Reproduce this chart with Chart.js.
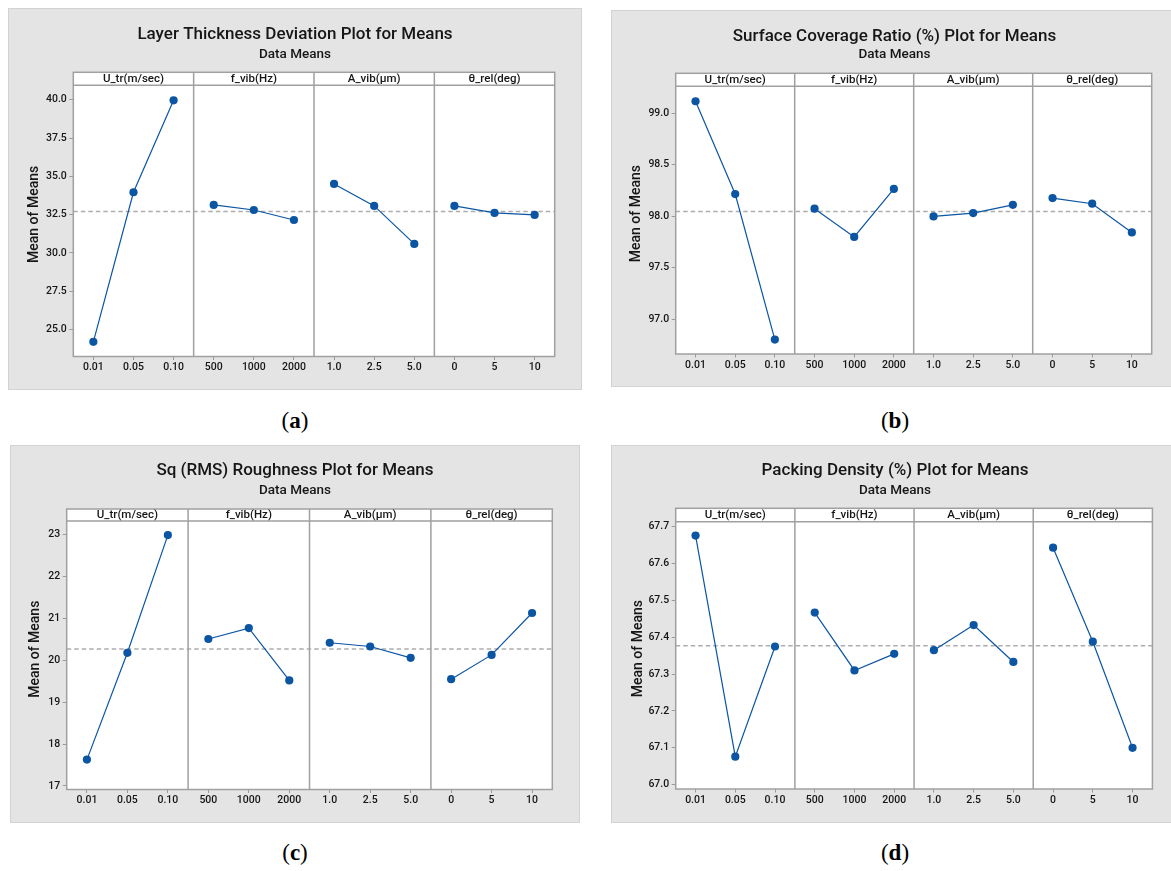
<!DOCTYPE html>
<html>
<head>
<meta charset="utf-8">
<script src="https://cdn.jsdelivr.net/npm/chart.js@4.4.1/dist/chart.umd.min.js"></script>
<style>
  html, body { margin: 0; padding: 0; background: #ffffff; }
  #fig { position: relative; width: 1171px; height: 871px; overflow: hidden; background: #ffffff; }
  .panel { position: absolute; }
  .panel canvas { display: block; }
  .tag { position: absolute; width: 80px; margin-left: -40px; text-align: center;
         font-family: "Liberation Serif", "DejaVu Serif", serif; font-size: 23px; line-height: 1; color: #000; }
</style>
</head>
<body>
<div id="fig">
  <div class="panel" style="left:8px;top:8px"><canvas id="chartA" width="574" height="382"></canvas></div>
  <div class="panel" style="left:611px;top:10px"><canvas id="chartB" width="567" height="377"></canvas></div>
  <div class="panel" style="left:10px;top:445px"><canvas id="chartC" width="570" height="378"></canvas></div>
  <div class="panel" style="left:611px;top:445px"><canvas id="chartD" width="568" height="378"></canvas></div>
  <div class="tag" style="left:295px;top:409px">(<b>a</b>)</div>
  <div class="tag" style="left:895px;top:409px">(<b>b</b>)</div>
  <div class="tag" style="left:295px;top:841px">(<b>c</b>)</div>
  <div class="tag" style="left:895px;top:841px">(<b>d</b>)</div>
</div>
<script>
// Factors and their levels (x categories of each sub-panel)
const factorNames = ['U_tr(m/sec)', 'f_vib(Hz)', 'A_vib(μm)', 'θ_rel(deg)'];
const uLevels = ['0.01', '0.05', '0.10'];
const fLevels = ['500', '1000', '2000'];
const aLevels = ['1.0', '2.5', '5.0'];
const tLevels = ['0', '5', '10'];

// (a) Layer thickness deviation — mean of means per level
const layerU = [24.20, 33.96, 39.96];
const layerF = [33.13, 32.80, 32.15];
const layerA = [34.50, 33.07, 30.59];
const layerT = [33.07, 32.61, 32.48];
const layerTicks = [25, 27.5, 30, 32.5, 35, 37.5, 40];

// (b) Surface coverage ratio (%)
const coverU = [99.117, 98.215, 96.800];
const coverF = [98.073, 97.798, 98.265];
const coverA = [97.997, 98.030, 98.110];
const coverT = [98.176, 98.121, 97.842];
const coverTicks = [97.0, 97.5, 98.0, 98.5, 99.0];

// (c) Sq (RMS) roughness
const sqU = [17.63, 20.18, 22.99];
const sqF = [20.51, 20.77, 19.52];
const sqA = [20.42, 20.33, 20.06];
const sqT = [19.55, 20.13, 21.13];
const sqTicks = [17, 18, 19, 20, 21, 22, 23];

// (d) Packing density (%)
const packU = [67.676, 67.076, 67.375];
const packF = [67.467, 67.310, 67.355];
const packA = [67.365, 67.433, 67.333];
const packT = [67.643, 67.388, 67.100];
const packTicks = [67.0, 67.1, 67.2, 67.3, 67.4, 67.5, 67.6, 67.7];

const BLUE = '#0b55a3';
const TEXT = '#161616';
const FRAME = '#a0a0a0';
const PANEL_BG = '#e4e4e4';
const PANEL_EDGE = '#d2d2d2';
const FONT = 'Roboto, "Open Sans", "Noto Sans", sans-serif';
Chart.defaults.font.family = FONT;

const TITLE_SIZE = 17, SUB_SIZE = 13.5;

// Draws the panel background, strip headers, sub-panel frames and the grand-mean line
const meansFrame = {
  id: 'meansFrame',
  beforeDraw(chart, args, o) {
    const { ctx, width, height, chartArea: a } = chart;
    ctx.save();
    ctx.fillStyle = PANEL_BG;
    ctx.fillRect(0, 0, width, height);
    ctx.strokeStyle = PANEL_EDGE;
    ctx.lineWidth = 1;
    ctx.strokeRect(0.5, 0.5, width - 1, height - 1);
    ctx.fillStyle = '#ffffff';
    ctx.fillRect(a.left, o.stripTop, a.right - a.left, a.bottom - o.stripTop);
    ctx.restore();
  },
  beforeDatasetsDraw(chart, args, o) {
    const { ctx, chartArea: a, scales: { y } } = chart;
    const py = y.getPixelForValue(o.mean);
    ctx.save();
    ctx.strokeStyle = '#adadad';
    ctx.lineWidth = 1.5;
    ctx.setLineDash([4.5, 3]);
    ctx.beginPath();
    ctx.moveTo(a.left, py);
    ctx.lineTo(a.right, py);
    ctx.stroke();
    ctx.restore();
  },
  afterDraw(chart, args, o) {
    const { ctx, chartArea: a, scales: { x } } = chart;
    ctx.save();
    ctx.strokeStyle = FRAME;
    ctx.lineWidth = 1.5;
    ctx.strokeRect(a.left, o.stripTop, a.right - a.left, a.bottom - o.stripTop);
    ctx.beginPath();
    ctx.moveTo(a.left, a.top);
    ctx.lineTo(a.right, a.top);
    // group dividers between factors
    for (let g = 1; g < factorNames.length; g++) {
      const px = (x.getPixelForValue(g * 3 - 1) + x.getPixelForValue(g * 3)) / 2;
      ctx.moveTo(px, o.stripTop);
      ctx.lineTo(px, a.bottom);
    }
    ctx.stroke();
    // strip labels
    ctx.fillStyle = TEXT;
    ctx.font = '500 11.5px ' + FONT;
    ctx.textAlign = 'center';
    ctx.textBaseline = 'middle';
    factorNames.forEach((name, g) => {
      ctx.fillText(name, x.getPixelForValue(g * 3 + 1), (o.stripTop + a.top) / 2 + 0.5);
    });
    // y axis title, centred on the whole frame
    ctx.translate(o.yTitleX, (o.stripTop + a.bottom) / 2);
    ctx.rotate(-Math.PI / 2);
    ctx.font = '500 14px ' + FONT;
    ctx.fillText('Mean of Means', 0, 0);
    ctx.restore();
  }
};

function makePanel(id, title, series, yTicks, decimals, g) {
  const labels = [...uLevels, ...fLevels, ...aLevels, ...tLevels];
  const datasets = series.map((vals, gi) => {
    const data = labels.map(() => null);
    vals.forEach((v, k) => { data[gi * 3 + k] = v; });
    return {
      data,
      borderColor: BLUE,
      backgroundColor: BLUE,
      borderWidth: 1.2,
      pointRadius: 4.1,
      pointHoverRadius: 4.1,
      pointBorderWidth: 0,
      tension: 0,
      spanGaps: false
    };
  });
  const all = series.flat();
  const grandMean = all.reduce((s, v) => s + v, 0) / all.length;
  const tLH = TITLE_SIZE * 1.2, sLH = SUB_SIZE * 1.2;
  // equal side padding keeps the titles centred on the whole panel
  const side = g.w - g.right;

  return new Chart(document.getElementById(id), {
    type: 'line',
    data: { labels, datasets },
    options: {
      responsive: false,
      animation: false,
      events: [],
      layout: { padding: { left: side, top: 0, right: side, bottom: 0 } },
      plugins: {
        legend: { display: false },
        tooltip: { enabled: false },
        title: {
          display: true, text: title, color: TEXT,
          font: { size: TITLE_SIZE, weight: '500' },
          padding: { top: g.titleY - tLH / 2, bottom: 0 }
        },
        subtitle: {
          display: true, text: 'Data Means', color: TEXT,
          font: { size: SUB_SIZE, weight: '500' },
          padding: { top: g.subY - g.titleY - tLH / 2 - sLH / 2, bottom: g.top - g.subY - sLH / 2 }
        },
        meansFrame: { stripTop: g.stripTop, yTitleX: g.yTitleX, mean: grandMean }
      },
      scales: {
        x: {
          type: 'category',
          offset: true,
          grid: { drawOnChartArea: false, drawTicks: true, tickLength: 3.5, color: '#9a9a9a' },
          border: { display: false },
          ticks: { color: TEXT, font: { size: 10.5, weight: '500' }, padding: 1.3, maxRotation: 0, autoSkip: false },
          afterFit(s) { s.height = g.h - g.bottom; }
        },
        y: {
          type: 'linear',
          min: g.yMin, max: g.yMax,
          grid: { drawOnChartArea: false, drawTicks: true, tickLength: 4, color: '#9a9a9a' },
          border: { display: false },
          ticks: {
            color: TEXT, font: { size: 10.5, weight: '500' }, padding: 2.5,
            callback: (v) => Number(v).toFixed(decimals)
          },
          afterBuildTicks(s) { s.ticks = yTicks.map(v => ({ value: v })); },
          afterFit(s) { s.width = g.left - side; }
        }
      }
    },
    plugins: [meansFrame]
  });
}

makePanel('chartA', 'Layer Thickness Deviation Plot for Means',
  [layerU, layerF, layerA, layerT], layerTicks, 1,
  { w: 574, h: 382, left: 65.3, right: 546.7, stripTop: 64.3, top: 77.3, bottom: 348.5,
    titleY: 26.3, subY: 46.3, yTitleX: 26.6, yMin: 23.24, yMax: 40.94 });

makePanel('chartB', 'Surface Coverage Ratio (%) Plot for Means',
  [coverU, coverF, coverA, coverT], coverTicks, 1,
  { w: 567, h: 377, left: 64.7, right: 540.7, stripTop: 63.3, top: 76.3, bottom: 344,
    titleY: 26.7, subY: 45, yTitleX: 25.4, yMin: 96.660, yMax: 99.2625 });

makePanel('chartC', 'Sq (RMS) Roughness Plot for Means',
  [sqU, sqF, sqA, sqT], sqTicks, 0,
  { w: 570, h: 378, left: 56.7, right: 542.3, stripTop: 64, top: 76, bottom: 344.5,
    titleY: 25.7, subY: 45.7, yTitleX: 25, yMin: 16.916, yMax: 23.327 });

makePanel('chartD', 'Packing Density (%) Plot for Means',
  [packU, packF, packA, packT], packTicks, 1,
  { w: 568, h: 378, left: 64.7, right: 541.4, stripTop: 63.3, top: 76.7, bottom: 344,
    titleY: 25.7, subY: 45.7, yTitleX: 27.2, yMin: 66.9883, yMax: 67.7136 });
</script>
</body>
</html>
